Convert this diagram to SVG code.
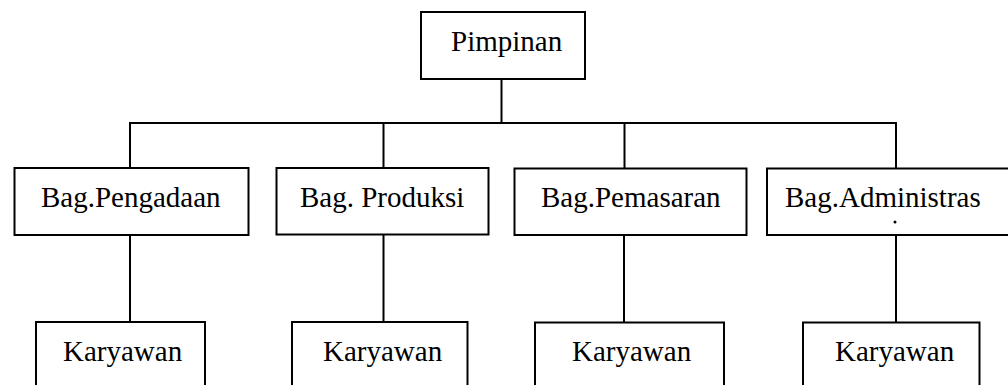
<svg xmlns="http://www.w3.org/2000/svg" width="1008" height="385" viewBox="0 0 1008 385">
<style>
.box{fill:#fff;stroke:#000;stroke-width:2}
.lbl{font-family:"Liberation Serif","Times New Roman",serif;font-size:29px;fill:#000}
.con line{stroke:#000;stroke-width:2}
</style>
<rect width="1008" height="385" fill="#fff"/>
<g class="con" id="connectors">
<line x1="501.5" y1="79" x2="501.5" y2="123"/>
<line x1="129" y1="123" x2="897" y2="123"/>
<line x1="130" y1="123" x2="130" y2="168"/>
<line x1="383.5" y1="123" x2="383.5" y2="168"/>
<line x1="624.5" y1="123" x2="624.5" y2="168"/>
<line x1="896" y1="123" x2="896" y2="168"/>
<line x1="130" y1="235" x2="130" y2="322"/>
<line x1="383.5" y1="235" x2="383.5" y2="322"/>
<line x1="624" y1="235" x2="624" y2="322"/>
<line x1="896" y1="235" x2="896" y2="322"/>
</g>
<g id="pimpinan"><rect class="box" x="421" y="12" width="164" height="67"/><text class="lbl" x="451" y="51">Pimpinan</text></g>
<g id="pengadaan"><rect class="box" x="14.5" y="168" width="234" height="67"/><text class="lbl" x="41" y="207">Bag.Pengadaan</text></g>
<g id="produksi"><rect class="box" x="276.5" y="168" width="212" height="66.5"/><text class="lbl" x="300" y="207">Bag. Produksi</text></g>
<g id="pemasaran"><rect class="box" x="514.5" y="168.5" width="232" height="66.5"/><text class="lbl" x="541" y="207">Bag.Pemasaran</text></g>
<g id="administrasi"><rect class="box" x="767" y="168.5" width="260" height="66.5"/><text class="lbl" x="785" y="207">Bag.Administras</text><circle cx="895" cy="222" r="1.5" fill="#000"/></g>
<g id="karyawan1"><rect class="box" x="36" y="322" width="169" height="80"/><text class="lbl" x="63" y="361">Karyawan</text></g>
<g id="karyawan2"><rect class="box" x="292" y="322" width="175.5" height="80"/><text class="lbl" x="323" y="361">Karyawan</text></g>
<g id="karyawan3"><rect class="box" x="535" y="322.5" width="189" height="80"/><text class="lbl" x="572" y="361">Karyawan</text></g>
<g id="karyawan4"><rect class="box" x="803" y="322.5" width="176.5" height="80"/><text class="lbl" x="835" y="361">Karyawan</text></g>
</svg>
